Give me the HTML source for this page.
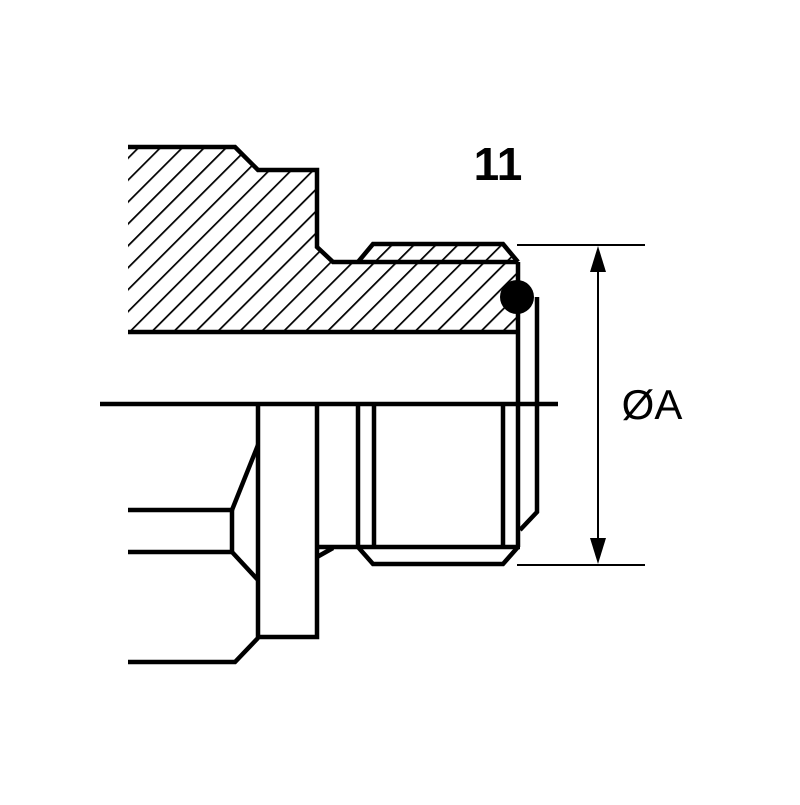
<!DOCTYPE html><html><head><style>body{margin:0;background:#fff}</style></head><body>
<svg width="800" height="800" viewBox="0 0 800 800" xmlns="http://www.w3.org/2000/svg">
<defs>
<pattern id="h" patternUnits="userSpaceOnUse" width="15.5" height="15.5" patternTransform="rotate(45)">
<line x1="0" y1="0" x2="0" y2="15.5" stroke="#000" stroke-width="3.5"/>
</pattern>
<clipPath id="c"><polygon points="128,147 235,147 258,170 317,170 317,247 333,262 358,262 373,244 503,244 518,262 518,332 128,332"/></clipPath>
</defs>
<rect x="100" y="140" width="430" height="200" fill="url(#h)" clip-path="url(#c)"/>
<g fill="none" stroke="#000" stroke-width="4.5" stroke-linejoin="miter">
<polyline points="128,147 235,147 258,170 317,170 317,247 333,262 518,262"/>
<polyline points="358,262 373,244 503,244 518,262"/>
<line x1="128" y1="332" x2="518" y2="332"/>
<line x1="518" y1="262" x2="518" y2="547"/>
<polyline points="537,297 537,512 520,530"/>
<line x1="100" y1="404" x2="558" y2="404"/>
<polyline points="258,404 258,637 317,637 317,404"/>
<polyline points="128,510 232,510 232,552 128,552"/>
<polyline points="232,510 258,445"/>
<polyline points="232,552 258,580"/>
<polyline points="128,662 235,662 258,638"/>
<line x1="317" y1="547" x2="520" y2="547"/>
<line x1="317" y1="557" x2="333" y2="548"/>
<line x1="358" y1="404" x2="358" y2="547"/>
<line x1="374" y1="404" x2="374" y2="547"/>
<line x1="503" y1="404" x2="503" y2="547"/>
<polyline points="358,547 373,564 503,564 518,547"/>
</g>
<circle cx="517" cy="297" r="17" fill="#000"/>
<g stroke="#000" stroke-width="2">
<line x1="517" y1="245" x2="645" y2="245"/>
<line x1="517" y1="565" x2="645" y2="565"/>
<line x1="598" y1="250" x2="598" y2="560"/>
</g>
<polygon points="598,246 590,272 606,272" fill="#000"/>
<polygon points="598,564 590,538 606,538" fill="#000"/>
<text x="498" y="180" font-family="Liberation Sans, sans-serif" font-weight="bold" font-size="46" text-anchor="middle">11</text>
<text x="652" y="419" font-family="Liberation Sans, sans-serif" font-size="42" text-anchor="middle">ØA</text>
</svg>
</body></html>
